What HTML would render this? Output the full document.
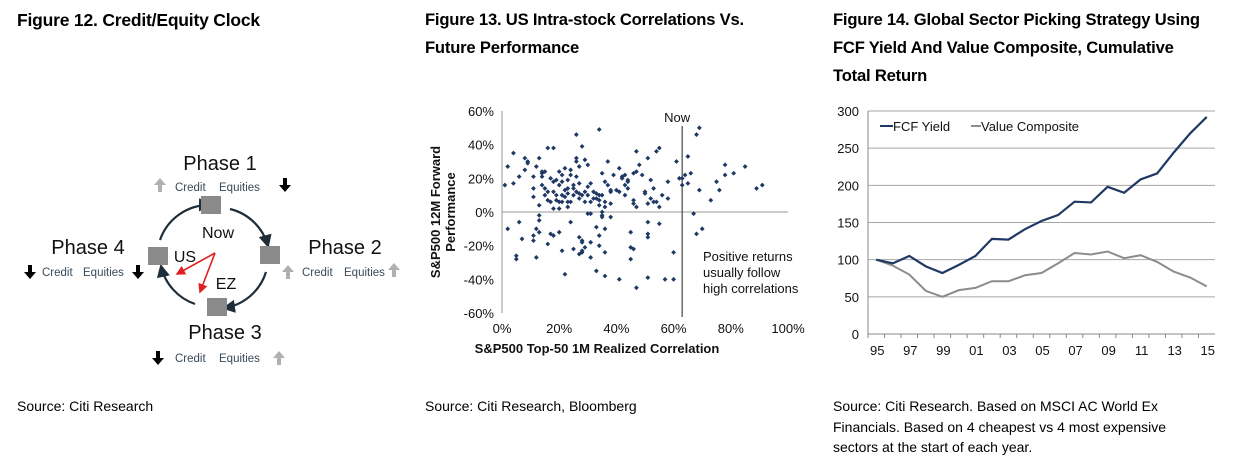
<!DOCTYPE html>
<html><head><meta charset="utf-8"><style>
body{margin:0;width:1234px;height:464px;background:#fff;overflow:hidden;font-family:"Liberation Sans",Arial,sans-serif;position:relative}
.t{position:absolute;font-weight:bold;font-size:16.6px;line-height:28px;color:#000;letter-spacing:-0.2px}
.s{position:absolute;font-size:14px;line-height:20.5px;color:#000}
svg{position:absolute;left:0;top:0}
</style></head><body>
<div class="t" style="left:17px;top:6px;font-size:17.5px">Figure 12. Credit/Equity Clock</div>
<div class="t" style="left:425px;top:6px">Figure 13. US Intra-stock Correlations Vs.<br>Future Performance</div>
<div class="t" style="left:833px;top:6px">Figure 14. Global Sector Picking Strategy Using<br>FCF Yield And Value Composite, Cumulative<br>Total Return</div>
<div class="s" style="left:17px;top:396px">Source: Citi Research</div>
<div class="s" style="left:425px;top:396px">Source: Citi Research, Bloomberg</div>
<div class="s" style="left:833px;top:396px">Source: Citi Research. Based on MSCI AC World Ex<br>Financials. Based on 4 cheapest vs 4 most expensive<br>sectors at the start of each year.</div>

<svg width="1234" height="464" id="svg" font-family="Liberation Sans, Arial, sans-serif">
<defs>
<marker id="ah" markerWidth="6" markerHeight="6" refX="5" refY="3" orient="auto"><path d="M0,0 L6,3 L0,6 z" fill="#1e2d38"/></marker>
<marker id="rh" markerWidth="6" markerHeight="6" refX="5" refY="3" orient="auto"><path d="M0,0 L6,3 L0,6 z" fill="#e02020"/></marker>
</defs>
<g id="clock">
  <g fill="none" stroke="#1e2d38" stroke-width="2.2">
    <path d="M230,209 A52,52 0 0 1 268,246" marker-end="url(#ah)"/>
    <path d="M266,272 A52,52 0 0 1 224,308" marker-end="url(#ah)"/>
    <path d="M195,304 A52,52 0 0 1 161,266" marker-end="url(#ah)"/>
    <path d="M160,240 A52,52 0 0 1 210,205" marker-end="url(#ah)"/>
  </g>
  <g fill="#8a8a8a">
    <rect x="201" y="196" width="20" height="18"/>
    <rect x="260" y="246" width="20" height="18"/>
    <rect x="207" y="298" width="20" height="18"/>
    <rect x="148" y="247" width="20" height="18"/>
  </g>
  <g stroke="#e02020" stroke-width="1.6" fill="none">
    <line x1="215" y1="253" x2="177" y2="274" marker-end="url(#rh)"/>
    <line x1="215" y1="253" x2="200" y2="292" marker-end="url(#rh)"/>
  </g>
  <g font-size="20" fill="#111" text-anchor="middle">
    <text x="220" y="170">Phase 1</text>
    <text x="345" y="254">Phase 2</text>
    <text x="225" y="339">Phase 3</text>
    <text x="88" y="254">Phase 4</text>
  </g>
  <g font-size="16" fill="#111" text-anchor="middle">
    <text x="218" y="238">Now</text>
    <text x="185" y="262">US</text>
    <text x="226" y="289">EZ</text>
  </g>
  <g font-size="11.5" fill="#3a4a5a">
    <text x="175" y="191">Credit</text><text x="219" y="191">Equities</text>
    <text x="302" y="276">Credit</text><text x="344" y="276">Equities</text>
    <text x="175" y="362">Credit</text><text x="219" y="362">Equities</text>
    <text x="42" y="276">Credit</text><text x="83" y="276">Equities</text>
  </g>
  <g id="arrows"></g>
</g>

<g id="scatter"></g>
<g id="line"></g>
</svg>

<script>
const NS="http://www.w3.org/2000/svg";
function el(tag,attrs,parent){const e=document.createElementNS(NS,tag);for(const k in attrs)e.setAttribute(k,attrs[k]);parent.appendChild(e);return e;}
const arrowG=document.getElementById('arrows');
const arrowSpecs=[[160,185,1],[285,185,0],[288,272,1],[394,270,1],[158,358,0],[279,358,1],[30,272,0],[138,272,0]];
arrowSpecs.forEach(a=>{
  const x=a[0],y=a[1],up=a[2];const c=up?'#b0b0b0':'#000';
  const d=up?`M${x},${y-7} L${x+6},${y} L${x+2},${y} L${x+2},${y+7} L${x-2},${y+7} L${x-2},${y} L${x-6},${y} z`
            :`M${x},${y+7} L${x+6},${y} L${x+2},${y} L${x+2},${y-7} L${x-2},${y-7} L${x-2},${y} L${x-6},${y} z`;
  const p=el('path',{d:d,fill:c},arrowG);
  
  
});

// ---------- Figure 13 scatter data ----------
const corrX=[1,2,2,4,4,5,5,6,6,7,8,8,9,9,11,11,11,11,11,12,12,12,13,13,13,13,13,14,14,14,14,15,15,15,16,16,16,16,17,17,17,18,18,18,18,18,19,19,19,20,20,20,20,20,21,21,21,21,21,22,22,22,22,23,23,23,23,23,24,24,24,24,25,25,25,25,26,26,26,26,26,27,27,27,27,27,27,28,28,28,28,28,28,29,29,29,29,30,30,30,30,31,31,31,31,31,32,32,33,33,33,33,34,34,34,34,34,34,35,35,35,35,35,36,36,36,36,36,36,37,37,38,38,38,38,39,40,41,41,41,42,42,43,43,43,44,44,44,45,45,45,46,46,46,46,47,47,47,47,48,49,50,50,51,51,51,51,51,51,52,52,53,53,54,54,55,55,55,56,57,58,58,60,60,61,62,63,63,64,65,65,66,67,68,68,69,69,70,73,75,76,78,78,81,85,89,91,98];
const perfY=[16,-10,27,35,17,-26,-28,21,-6,-16,25,32,30,29,21,14,9,-14,-17,-27,-10,27,32,4,-2,-5,-12,21,23,16,24,14,10,24,38,12,7,-19,-13,20,6,2,38,-14,18,12,10,19,7,24,2,16,6,-12,22,10,18,6,-23,13,-37,26,9,19,3,14,11,6,25,6,-6,22,-22,16,10,14,32,46,21,12,30,8,-25,17,-15,11,27,-24,-18,-23,10,39,-17,31,6,12,-21,15,28,-1,10,-27,-1,6,17,-18,12,8,-9,-35,8,11,49,10,-14,4,-20,7,23,0,-2,10,-3,18,-10,-24,-38,6,3,30,16,13,-3,5,12,22,13,-40,12,26,20,21,10,16,22,14,19,18,-12,-28,-21,-22,7,5,23,36,-45,24,3,28,22,11,12,32,5,-39,-6,-13,-15,8,19,6,14,6,36,38,-7,3,10,-40,18,8,-40,-24,30,20,16,20,22,33,17,23,-1,46,-13,50,13,-10,7,18,13,22,28,23,27,14,16];
const xTicks=['0%','20%','40%','60%','80%','100%'];
const yTicks=['-60%','-40%','-20%','0%','20%','40%','60%'];
const nowX=[63];

// ---------- Figure 14 line data ----------
const years=['95','96','97','98','99','00','01','02','03','04','05','06','07','08','09','10','11','12','13','14','15'];
const fcfYield=[100,95,105,91,82,93,105,128,127,141,152,160,178,177,198,190,208,216,244,270,292];
const valueComp=[100,92,80,58,50,59,62,71,71,79,82,95,109,107,111,102,106,97,84,76,64];
const lineTicks=[0,50,100,150,200,250,300];

(function(){
  const g=document.getElementById('scatter');
  const L=502,R=788,T=111,B=313;
  const sx=v=>L+(v/100)*(R-L);
  const sy=v=>T+(60-v)/120*(B-T);
  el('line',{x1:L,y1:T,x2:L,y2:B,stroke:'#999','stroke-width':1},g);
  const z=el('line',{x1:L,y1:sy(0),x2:R,y2:sy(0),stroke:'#999','stroke-width':1},g);
  
  
  yTicks.forEach(t=>{
    const v=parseFloat(t);
    const tx=el('text',{x:L-8,y:sy(v)+5,'font-size':13,'text-anchor':'end',fill:'#111'},g);tx.textContent=t;
    
    
  });
  xTicks.forEach(t=>{
    const v=parseFloat(t);
    const tx=el('text',{x:sx(v),y:333,'font-size':13,'text-anchor':'middle',fill:'#111'},g);tx.textContent=t;
    
    
  });
  const nl=el('line',{x1:sx(nowX[0]),y1:126,x2:sx(nowX[0]),y2:317,stroke:'#555','stroke-width':1.3},g);
  
  
  const nt=el('text',{x:sx(nowX[0])-5,y:122,'font-size':13,'text-anchor':'middle',fill:'#111'},g);nt.textContent='Now';
  
  
  ['Positive returns','usually follow','high correlations'].forEach((s,i)=>{
    const t=el('text',{x:703,y:261+i*16,'font-size':13,fill:'#111'},g);t.textContent=s;
    
    
  });
  corrX.forEach((x,i)=>{
    const cx=sx(x),cy=sy(perfY[i]);
    const p=el('path',{d:`M${cx},${cy-2.4} L${cx+2.4},${cy} L${cx},${cy+2.4} L${cx-2.4},${cy} z`,fill:'#1f3864'},g);
    
    
  });
  const xt=el('text',{x:597,y:353,'font-size':13,'font-weight':'bold','text-anchor':'middle',fill:'#111'},g);xt.textContent='S&P500 Top-50 1M Realized Correlation';
  
  
  const yt=el('text',{transform:'translate(440,212) rotate(-90)','font-size':13,'font-weight':'bold','text-anchor':'middle',fill:'#111'},g);
  
  
  const t1=el('tspan',{x:0,dy:0},yt);t1.textContent='S&P500 12M Forward';
  const t2=el('tspan',{x:0,dy:15},yt);t2.textContent='Performance';
})();

(function(){
  const g=document.getElementById('line');
  const L=868,R=1215,T=111,B=334;
  const bw=(R-L)/years.length;
  const sx=i=>L+bw*(i+0.5);
  const sy=v=>B-(v/300)*(B-T);
  lineTicks.forEach(v=>{
    if(v>0){const gl=el('line',{x1:L,y1:sy(v),x2:R,y2:sy(v),stroke:'#a6a6a6','stroke-width':1},g);
      
      }
    const t=el('text',{x:L-9,y:sy(v)+5,'font-size':13,'text-anchor':'end',fill:'#111'},g);t.textContent=v;
    
    
  });
  el('line',{x1:L,y1:T,x2:L,y2:B,stroke:'#888','stroke-width':1},g);
  el('line',{x1:L,y1:B,x2:R,y2:B,stroke:'#888','stroke-width':1},g);
  years.forEach((y,i)=>{
    el('line',{x1:L+bw*i,y1:B,x2:L+bw*i,y2:B+4,stroke:'#888'},g);
    if(i%2===0){const t=el('text',{x:sx(i)+1,y:355,'font-size':13,'text-anchor':'middle',fill:'#111'},g);t.textContent=y;
      
      }
  });
  const v=el('polyline',{points:valueComp.map((d,i)=>sx(i)+','+sy(d)).join(' '),fill:'none',stroke:'#8c8c8c','stroke-width':2},g);
  
  
  const f=el('polyline',{points:fcfYield.map((d,i)=>sx(i)+','+sy(d)).join(' '),fill:'none',stroke:'#1f3864','stroke-width':2.2},g);
  
  
  const lg=el('g',{},g);
  
  
  el('line',{x1:880,y1:126,x2:893,y2:126,stroke:'#1f3864','stroke-width':2},lg);
  const a=el('text',{x:893,y:131,'font-size':13,fill:'#111'},lg);a.textContent='FCF Yield';
  
  
  el('line',{x1:971,y1:126,x2:981,y2:126,stroke:'#8c8c8c','stroke-width':2},lg);
  const b=el('text',{x:981,y:131,'font-size':13,fill:'#111'},lg);b.textContent='Value Composite';
  
  
})();
</script>
</body></html>
